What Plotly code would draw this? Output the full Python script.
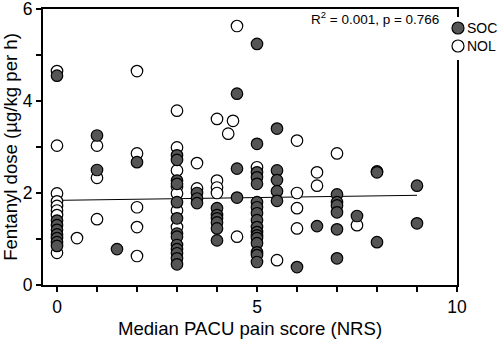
import plotly.graph_objects as go

# ---- data ----
soc_x = [0]*8 + [1]*2 + [1.5] + [2] + [3]*13 + [3.5]*3 + [4]*6 + [4.5]*3 + [5]*17 + [5.5]*5 + [6] + [6.5] + [7]*6 + [7.5] + [8]*3 + [9]*2
soc_y = [4.55, 1.40, 1.30, 1.20, 1.10, 1.02, 0.93, 0.85,
         3.25, 2.50,
         0.78,
         2.67,
         2.82, 2.72, 2.27, 2.20, 1.80, 1.45, 1.12, 1.05, 0.87, 0.78, 0.69, 0.58, 0.45,
         2.00, 1.88, 1.78,
         1.67, 1.52, 1.45, 1.36, 1.23, 0.97,
         4.16, 2.53, 1.90,
         5.24, 3.07, 2.45, 2.34, 2.20, 1.80, 1.69, 1.56, 1.41, 1.26, 1.15, 1.08, 1.02, 0.91, 0.71, 0.65, 0.50,
         3.40, 2.49, 2.28, 2.04, 1.83,
         0.39,
         1.28,
         1.97, 1.80, 1.73, 1.58, 1.21, 0.58,
         1.50,
         2.47, 2.45, 0.93,
         2.16, 1.34]

nol_x = [0]*8 + [0.5] + [1]*3 + [2]*5 + [3]*7 + [3.5]*2 + [4]*4 + [4.28] + [4.4] + [4.5]*2 + [5] + [5.5] + [6]*4 + [6.5]*2 + [7] + [7.5]
nol_y = [4.65, 3.03, 1.99, 1.82, 1.72, 1.62, 1.52, 0.70,
         1.02,
         3.03, 2.33, 1.43,
         4.65, 2.86, 1.69, 1.26, 0.63,
         3.79, 2.99, 2.49, 2.14, 1.99, 1.62, 1.26,
         2.65, 2.10,
         3.61, 2.27, 2.12, 2.00,
         3.29,
         3.57,
         5.63, 1.05,
         2.56,
         0.54,
         3.14, 2.00, 1.67, 1.23,
         2.45, 2.16,
         2.86,
         1.30]

fit_x = [0, 9]
fit_y = [1.84, 1.95]

series_names = ["SOC", "NOL"]
stat_text = "R<sup>2</sup> = 0.001, p = 0.766"

SOC_FILL = "#555555"
FONT = "Arial, Liberation Sans, sans-serif"

fig = go.Figure()
fig.add_trace(go.Scatter(x=fit_x, y=fit_y, mode="lines",
                         line=dict(color="black", width=1), showlegend=False, hoverinfo="skip"))
fig.add_trace(go.Scatter(x=nol_x, y=nol_y, mode="markers", name=series_names[1],
                         marker=dict(size=11.5, color="white", line=dict(color="black", width=1.2))))
fig.add_trace(go.Scatter(x=soc_x, y=soc_y, mode="markers", name=series_names[0],
                         marker=dict(size=11.5, color=SOC_FILL, line=dict(color="black", width=1.2))))

L, R, T, B = 43, 41, 9, 56
W, H = 498, 341
pw, ph = W - L - R, H - T - B

def px_to_paper_x(px):
    return (px - L) / pw

def px_to_paper_y(py):
    return (H - B - py) / ph

shapes = [
    dict(type="rect", xref="paper", yref="paper",
         x0=px_to_paper_x(450), x1=px_to_paper_x(498),
         y0=px_to_paper_y(60), y1=px_to_paper_y(17),
         fillcolor="white", line=dict(width=0), layer="above"),
]
legend_rows = [(series_names[0], SOC_FILL, 28), (series_names[1], "white", 46)]
annotations = []
for name, fill, py in legend_rows:
    shapes.append(dict(type="circle", xref="paper", yref="paper",
                       xsizemode="pixel", ysizemode="pixel",
                       xanchor=px_to_paper_x(458), yanchor=px_to_paper_y(py),
                       x0=-6, x1=6, y0=-6, y1=6,
                       fillcolor=fill, line=dict(color="black", width=1.2), layer="above"))
    annotations.append(dict(text=name, xref="paper", yref="paper",
                            x=px_to_paper_x(465), y=px_to_paper_y(py),
                            xanchor="left", yanchor="middle", showarrow=False,
                            font=dict(size=14, color="black", family=FONT)))
annotations.append(dict(text=stat_text, xref="paper", yref="paper",
                        x=px_to_paper_x(441), y=px_to_paper_y(18),
                        xanchor="right", yanchor="middle", showarrow=False,
                        font=dict(size=13.5, color="black", family=FONT)))

tick_common = dict(ticks="outside", ticklen=5, tickwidth=1.5, tickcolor="black",
                   showline=True, linecolor="black", linewidth=1.8, mirror=True,
                   showgrid=False, zeroline=False, tickfont=dict(size=17.5), automargin=False,
                   ticklabeloverflow="allow")

fig.update_layout(
    width=W, height=H,
    margin=dict(l=L, r=R, t=T, b=B, pad=0, autoexpand=False),
    paper_bgcolor="white", plot_bgcolor="white",
    showlegend=False,
    font=dict(family=FONT, color="black"),
    shapes=shapes, annotations=annotations,
    xaxis=dict(range=[-0.35, 10], tick0=0, dtick=5,
               minor=dict(dtick=1, tick0=0, ticks="outside", ticklen=5, tickwidth=1.5, tickcolor="black"),
               title=dict(text="Median PACU pain score (NRS)", font=dict(size=18.6), standoff=6),
               **tick_common),
    yaxis=dict(range=[0, 6], tick0=0, dtick=2,
               minor=dict(dtick=1, tick0=0, ticks="outside", ticklen=5, tickwidth=1.5, tickcolor="black"),
               title=dict(text="Fentanyl dose (µg/kg per h)", font=dict(size=18.6), standoff=4),
               **tick_common),
)

fig.write_html("out.html", config={"displayModeBar": False},
               post_script="document.body.style.margin='0';document.body.style.overflow='hidden';")
